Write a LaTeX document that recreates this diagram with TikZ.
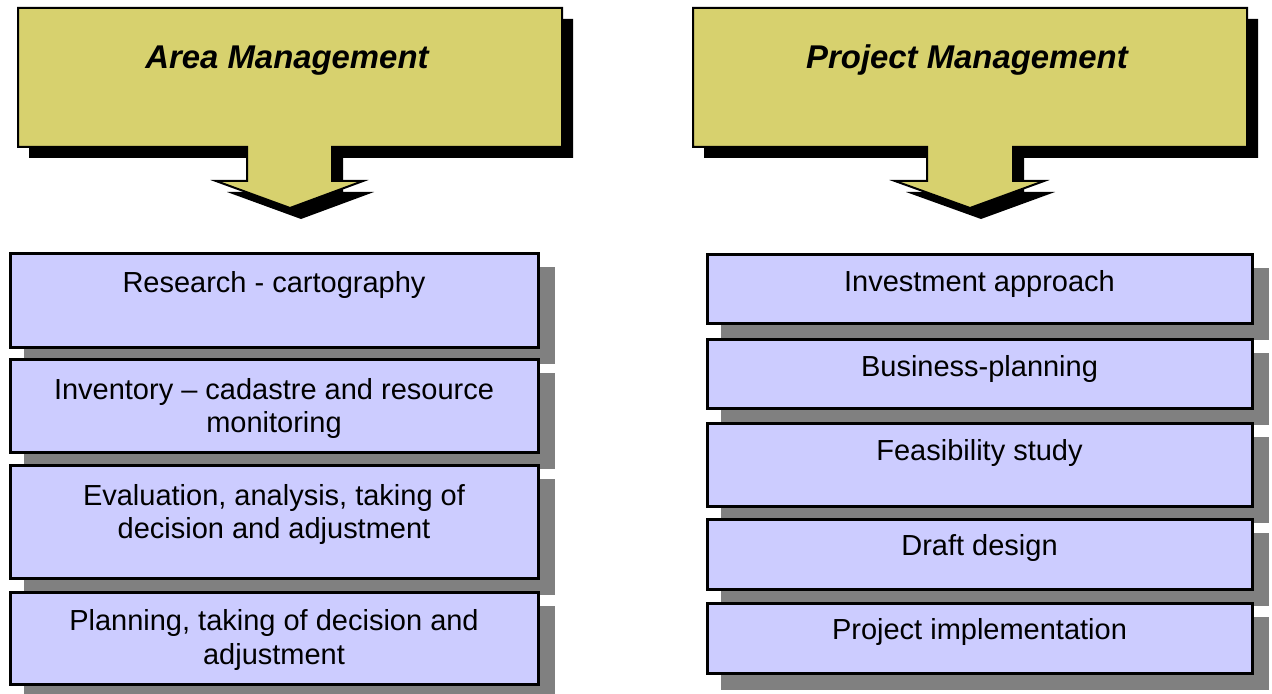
\documentclass[tikz,border=0pt]{standalone}
\usepackage{fontspec}
\setmainfont{Liberation Sans}
\usetikzlibrary{shadows,calc}
\definecolor{hdrfill}{RGB}{215,209,110}
\definecolor{boxfill}{RGB}{204,204,255}
\definecolor{shgray}{RGB}{128,128,128}
\begin{document}
\begin{tikzpicture}[x=1bp,y=-1bp,
  hdrshape/.style={draw=black, line width=2bp, fill=hdrfill, line join=miter},
  hdrshadow/.style={fill=black},
  hdrtitle/.style={font=\fontsize{33}{38}\selectfont\bfseries\itshape, anchor=base, inner sep=0},
  stepbox/.style={draw=black, line width=3bp, fill=boxfill, anchor=north west, inner sep=0,
    drop shadow={shadow xshift=15bp, shadow yshift=-15bp, fill=shgray, draw=shgray, opacity=1}},
  lbox/.style={stepbox, minimum width=528bp},
  rbox/.style={stepbox, minimum width=545bp},
  txt/.style={font=\fontsize{29.1}{33.5}\selectfont, align=center, anchor=base, inner sep=0}]
\useasboundingbox (0,0) rectangle (1272,694);
\fill[white] (0,0) rectangle (1272,694);

% ---- Area Management header callout
\fill[hdrshadow, shift={(11,11)}] (18,8) -- (562,8) -- (562,147) -- (332,147) -- (332,181) -- (363,181)
  -- (290,208) -- (216,181) -- (247,181) -- (247,147) -- (18,147) -- cycle;
\draw[hdrshape] (18,8) -- (562,8) -- (562,147) -- (332,147) -- (332,181) -- (363,181)
  -- (290,208) -- (216,181) -- (247,181) -- (247,147) -- (18,147) -- cycle;
\node[hdrtitle] (am) at (287,69) {Area Management};

% ---- Project Management header callout
\fill[hdrshadow, shift={(11,11)}] (693,8) -- (1247,8) -- (1247,147) -- (1013,147) -- (1013,181) -- (1044,181)
  -- (970,208) -- (895,181) -- (927,181) -- (927,147) -- (693,147) -- cycle;
\draw[hdrshape] (693,8) -- (1247,8) -- (1247,147) -- (1013,147) -- (1013,181) -- (1044,181)
  -- (970,208) -- (895,181) -- (927,181) -- (927,147) -- (693,147) -- cycle;
\node[hdrtitle] (pm) at (967,69) {Project Management};

% ---- left column
\node[lbox, minimum height=94bp] (l1) at (8.5,252) {};
\node[lbox, minimum height=93.5bp] (l2) at (8.5,357.5) {};
\node[lbox, minimum height=113bp] (l3) at (8.5,464) {};
\node[lbox, minimum height=92.5bp] (l4) at (8.5,590.5) {};
\node[txt] (l1t) at ($(l1.north)+(0,40)$) {Research - cartography};
% two-line nodes: base anchor is the last line's baseline
\node[txt] (l2t) at ($(l2.north)+(0,75)$) {Inventory – cadastre and resource\\monitoring};
\node[txt] (l3t) at ($(l3.north)+(0,74.5)$) {Evaluation, analysis, taking of\\decision and adjustment};
\node[txt] (l4t) at ($(l4.north)+(0,73.5)$) {Planning, taking of decision and\\adjustment};

% ---- right column
\node[rbox, minimum height=69.5bp] (r1) at (705.5,252.5) {};
\node[rbox, minimum height=69.5bp] (r2) at (705.5,337.5) {};
\node[rbox, minimum height=83bp] (r3) at (705.5,421.5) {};
\node[rbox, minimum height=70bp] (r4) at (705.5,517.5) {};
\node[rbox, minimum height=70.5bp] (r5) at (705.5,601.5) {};
\node[txt] (r1t) at ($(r1.north)+(0,38.5)$) {Investment approach};
\node[txt] (r2t) at ($(r2.north)+(0,39)$) {Business-planning};
\node[txt] (r3t) at ($(r3.north)+(0,38.5)$) {Feasibility study};
\node[txt] (r4t) at ($(r4.north)+(0,38)$) {Draft design};
\node[txt] (r5t) at ($(r5.north)+(0,37.5)$) {Project implementation};
\end{tikzpicture}
\end{document}
